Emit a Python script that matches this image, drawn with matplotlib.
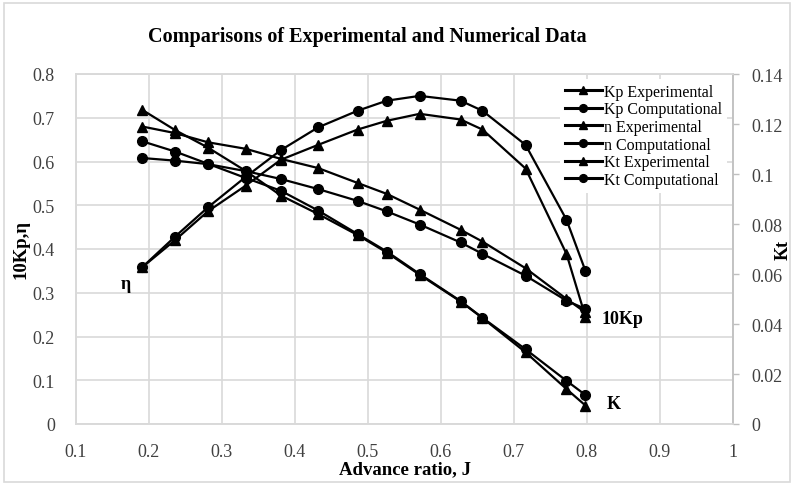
import matplotlib
matplotlib.use("Agg")
import matplotlib.pyplot as plt
from matplotlib.patches import Rectangle

plt.rcParams['font.family'] = ['Liberation Serif', 'DejaVu Serif']

# ---- data ----
J = [0.191, 0.236, 0.281, 0.333, 0.381, 0.432, 0.486, 0.526, 0.571, 0.627, 0.657, 0.716, 0.772, 0.798]

kp10_exp = [0.680, 0.665, 0.644, 0.629, 0.606, 0.585, 0.551, 0.526, 0.490, 0.444, 0.417, 0.356, 0.286, 0.255]
kp10_cmp = [0.608, 0.602, 0.594, 0.578, 0.560, 0.537, 0.510, 0.486, 0.456, 0.415, 0.389, 0.339, 0.282, 0.263]
eta_exp = [0.358, 0.420, 0.486, 0.545, 0.604, 0.638, 0.673, 0.693, 0.709, 0.696, 0.673, 0.584, 0.389, 0.245]
eta_cmp = [0.358, 0.428, 0.495, 0.565, 0.626, 0.678, 0.716, 0.739, 0.750, 0.739, 0.716, 0.638, 0.467, 0.350]
kt_exp = [0.1257, 0.1176, 0.1106, 0.1012, 0.0914, 0.0840, 0.0756, 0.0686, 0.0597, 0.0490, 0.0424, 0.0287, 0.0140, 0.0074]
kt_cmp = [0.1131, 0.1090, 0.1041, 0.0984, 0.0933, 0.0854, 0.0760, 0.0690, 0.0600, 0.0492, 0.0425, 0.0299, 0.0173, 0.0116]

xticks = [0.1, 0.2, 0.3, 0.4, 0.5, 0.6, 0.7, 0.8, 0.9, 1.0]
xticklabels = ["0.1", "0.2", "0.3", "0.4", "0.5", "0.6", "0.7", "0.8", "0.9", "1"]
yticks_left = [0, 0.1, 0.2, 0.3, 0.4, 0.5, 0.6, 0.7, 0.8]
yticklabels_left = ["0", "0.1", "0.2", "0.3", "0.4", "0.5", "0.6", "0.7", "0.8"]
yticks_right = [0, 0.02, 0.04, 0.06, 0.08, 0.1, 0.12, 0.14]
yticklabels_right = ["0", "0.02", "0.04", "0.06", "0.08", "0.1", "0.12", "0.14"]

W, H = 795, 485
fig = plt.figure(figsize=(W / 100, H / 100), dpi=100)
fig.patches.append(Rectangle((4 / W, 2 / H), 786 / W, 479 / H, transform=fig.transFigure,
                             fill=False, edgecolor='#d9d9d9', linewidth=1.2))

ax = fig.add_axes([75.6 / W, 60 / H, (733 - 75.6) / W, 350 / H])
ax2 = ax.twinx()

grid_c = '#d9d9d9'
tick_c = '#404040'

lw = 1.6
ms_t = 7.5
ms_c = 7
l1, = ax.plot(J, kp10_exp, color='black', lw=lw, marker='^', ms=ms_t, label='Kp Experimental')
l2, = ax.plot(J, kp10_cmp, color='black', lw=lw, marker='o', ms=ms_c, label='Kp Computational')
l3, = ax.plot(J, eta_exp, color='black', lw=lw, marker='^', ms=ms_t, label='n Experimental')
l4, = ax.plot(J, eta_cmp, color='black', lw=lw, marker='o', ms=ms_c, label='n Computational')
l5, = ax2.plot(J, kt_exp, color='black', lw=lw, marker='^', ms=ms_t, label='Kt Experimental')
l6, = ax2.plot(J, kt_cmp, color='black', lw=lw, marker='o', ms=ms_c, label='Kt Computational')

ax.set_xlim(0.1, 1.0)
ax.set_ylim(0, 0.8)
ax2.set_ylim(0, 0.14)

ax.set_xticks(xticks)
ax.set_xticklabels(xticklabels)
ax.set_yticks(yticks_left)
ax.set_yticklabels(yticklabels_left)
ax2.set_yticks(yticks_right)
ax2.set_yticklabels(yticklabels_right)

ax.grid(True, color=grid_c, lw=1.2)
ax.set_axisbelow(True)

for a in (ax, ax2):
    for s in a.spines.values():
        s.set_color(grid_c)
        s.set_linewidth(1.2)
ax2.spines['right'].set_color('#bfbfbf')

ax.tick_params(axis='x', length=0, pad=14, labelsize=13, labelcolor=tick_c)
ax.tick_params(axis='y', length=0, pad=15, labelsize=13, labelcolor=tick_c)
ax2.tick_params(axis='y', length=4, width=1, color='#bfbfbf', pad=9, labelsize=13, labelcolor=tick_c)

fig.text(367 / W, 1 - 37 / H, 'Comparisons of Experimental and Numerical Data',
         ha='center', va='center', fontsize=14.5, fontweight='bold')
fig.text(405 / W, 1 - 470 / H, 'Advance ratio, J', ha='center', va='center',
         fontsize=13.5, fontweight='bold')
fig.text(21 / W, 1 - 250 / H, '10Kp,η', ha='center', va='center', rotation=90,
         fontsize=13.5, fontweight='bold')
fig.text(783 / W, 1 - 250 / H, 'Kt', ha='center', va='center', rotation=90,
         fontsize=13, fontweight='bold')

ax.text(0.169, 0.322, 'η', ha='center', va='center', fontsize=13, fontweight='bold')
ax.text(0.820, 0.24, '10Kp', ha='left', va='center', fontsize=13, fontweight='bold')
ax.text(0.827, 0.046, 'K', ha='left', va='center', fontsize=13, fontweight='bold')

leg = ax2.legend(handles=[l1, l2, l3, l4, l5, l6], loc='upper left',
                 bbox_to_anchor=(560 / W, 1 - 80 / H), bbox_transform=fig.transFigure,
                 fontsize=11.5, labelspacing=0.1, handlelength=2.3, handletextpad=0.15,
                 borderpad=0.3, borderaxespad=0, frameon=True, fancybox=False,
                 markerscale=0.8)
leg.get_frame().set_facecolor('white')
leg.get_frame().set_edgecolor('none')
leg.get_frame().set_alpha(1)
for h in leg.get_lines():
    h.set_linewidth(2.2)

fig.savefig('out.png', dpi=100)
